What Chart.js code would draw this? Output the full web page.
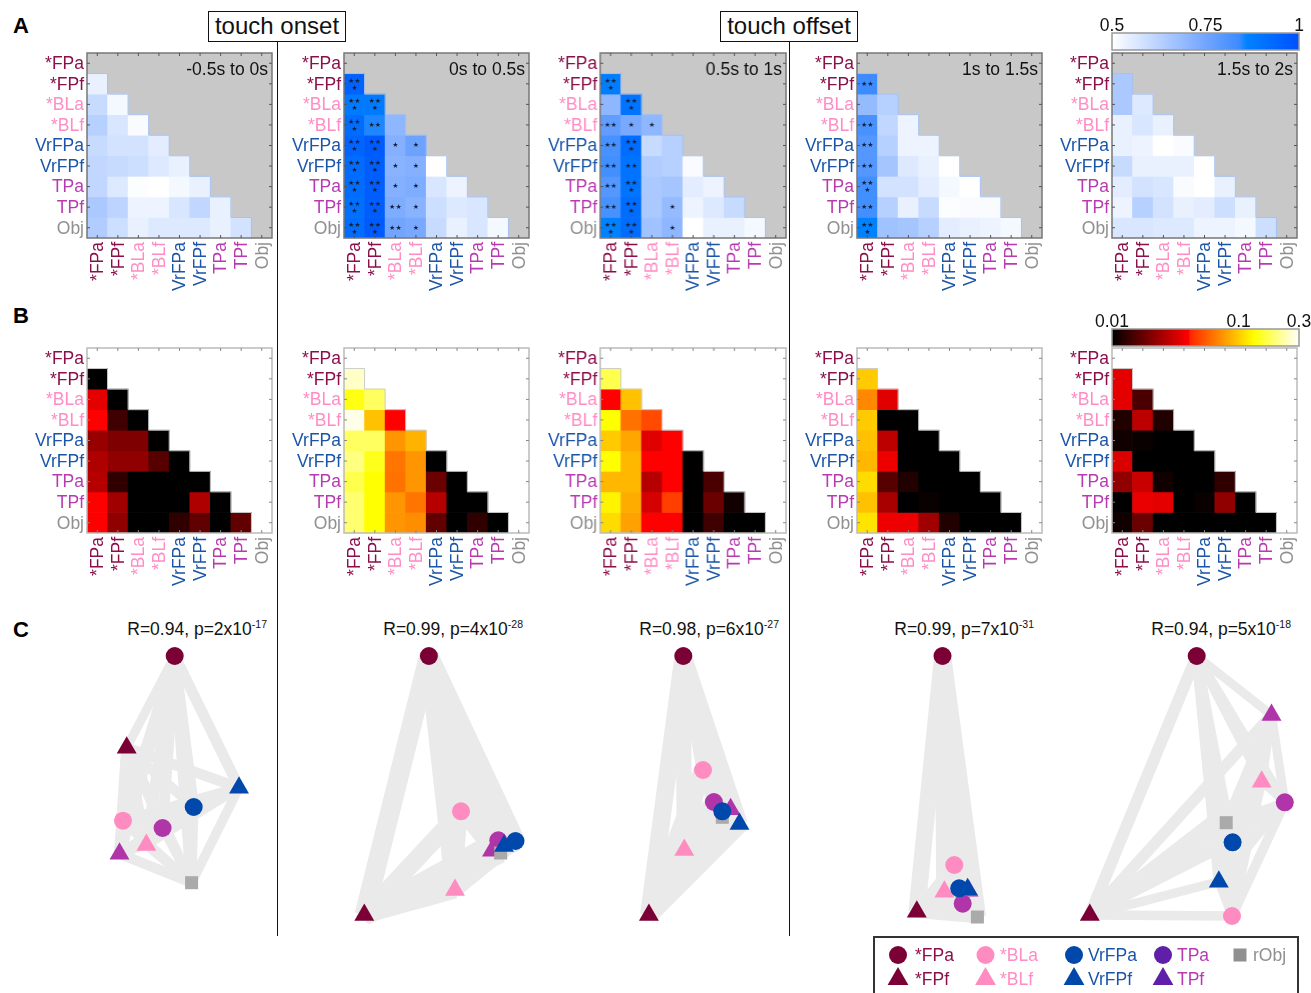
<!DOCTYPE html>
<html>
<head>
<meta charset="utf-8">
<title>Touch onset and offset matrices</title>
<script src="https://cdn.jsdelivr.net/npm/chart.js"></script>
<style>
  html, body { margin: 0; padding: 0; background: #fff; width: 1311px; height: 993px; overflow: hidden; }
  body { position: relative; font-family: "Liberation Sans", Arial, sans-serif; color: #111; }
  canvas { position: absolute; }
  .letter { position: absolute; left: 13px; font-size: 22px; font-weight: bold; line-height: 26px; color: #000; }
  .event { position: absolute; top: 11px; height: 29px; line-height: 28px; border: 1px solid #111; background: #fff;
           text-align: center; font-size: 24px; box-sizing: content-box; z-index: 5; }
  .sep { position: absolute; width: 1px; top: 41px; height: 895px; background: #111; }
  .fit { position: absolute; top: 620px; font-size: 17.5px; line-height: 18px; white-space: nowrap; text-align: right; z-index: 5; }
  .fit sup { font-size: 10.5px; line-height: 0; }
  .legendbox { position: absolute; left: 873px; top: 936px; width: 422px; height: 70px; border: 2px solid #333; }
</style>
</head>
<body>
<div class="sep" style="left:277px"></div>
<div class="sep" style="left:789px"></div>
<div class="event" style="left:208px;width:136px">touch onset</div>
<div class="event" style="left:720px;width:136px">touch offset</div>
<div class="letter" style="top:13px">A</div>
<div class="letter" style="top:303px">B</div>
<div class="letter" style="top:617px">C</div>
<div class="legendbox"></div>

<script>
const categories = ['*FPa', '*FPf', '*BLa', '*BLf', 'VrFPa', 'VrFPf', 'TPa', 'TPf', 'Obj'];
const labelColors = ['#8a0f4a', '#8a0f4a', '#ff8cc4', '#ff8cc4', '#1a55a8', '#1a55a8', '#b83ab0', '#b83ab0', '#909090'];
const windows = ['-0.5s to 0s', '0s to 0.5s', '0.5s to 1s', '1s to 1.5s', '1.5s to 2s'];

// decoding performance, rows *FPf..Obj, lower triangle only
const decode1 = [[.54], [.60, .52], [.63, .57, .51], [.60, .58, .58, .55], [.61, .60, .59, .56, .54],
  [.61, .56, .505, .50, .52, .54], [.65, .62, .53, .53, .57, .61, .54], [.64, .59, .54, .56, .56, .56, .54, .58]];
const decode2 = [[.95], [.88, .88], [.92, .85, .70], [.94, .97, .72, .76], [.92, .96, .71, .72, .50],
  [.92, .96, .72, .73, .57, .53], [.91, .96, .73, .71, .59, .56, .57], [.92, .97, .75, .74, .60, .54, .57, .52]];
const decode3 = [[.87], [.70, .90], [.78, .74, .70], [.82, .92, .60, .63], [.83, .90, .64, .63, .51],
  [.80, .90, .65, .66, .55, .53], [.82, .92, .65, .69, .53, .56, .60], [.86, .92, .67, .70, .50, .54, .54, .52]];
const decode4 = [[.84], [.69, .63], [.82, .61, .53], [.80, .63, .53, .53], [.80, .66, .56, .54, .50],
  [.83, .58, .58, .55, .52, .50], [.83, .63, .54, .60, .505, .51, .51], [.86, .67, .66, .63, .55, .54, .53, .52]];
const decode5 = [[.65], [.65, .56], [.54, .57, .54], [.54, .53, .50, .51], [.60, .54, .54, .54, .50],
  [.55, .58, .57, .51, .50, .54], [.53, .63, .58, .54, .55, .59, .54], [.57, .57, .56, .56, .53, .53, .52, .59]];

// number of significance stars per cell
const stars1 = [];
const stars2 = [[3], [3, 3], [3, 2, 0], [3, 3, 1, 1], [3, 3, 1, 1, 0], [3, 3, 1, 1, 0, 0], [3, 3, 2, 1, 0, 0, 0], [3, 3, 2, 1, 0, 0, 0, 0]];
const stars3 = [[3], [0, 3], [2, 1, 1], [2, 3, 0, 0], [2, 2, 0, 0, 0], [2, 3, 0, 0, 0, 0], [2, 3, 0, 1, 0, 0, 0], [3, 3, 0, 1, 0, 0, 0, 0]];
const stars4 = [[2], [0, 0], [2, 0, 0], [2, 0, 0, 0], [2, 0, 0, 0, 0], [3, 0, 0, 0, 0, 0], [2, 0, 0, 0, 0, 0, 0], [3, 0, 0, 0, 0, 0, 0, 0]];
const stars5 = [];

// p values, same layout
const pval1 = [[.01], [.035, .01], [.04, .014, .01], [.023, .02, .02, .01], [.026, .022, .022, .016, .01],
  [.027, .013, .01, .01, .01, .01], [.04, .024, .01, .01, .01, .026, .01], [.04, .022, .01, .01, .013, .017, .01, .017]];
const pval2 = [[.25], [.14, .18], [.28, .095, .04], [.18, .18, .075, .088], [.2, .145, .063, .075, .01],
  [.17, .133, .062, .075, .018, .01], [.19, .133, .075, .063, .027, .01, .01], [.19, .133, .075, .072, .017, .01, .013, .01]];
const pval3 = [[.17], [.04, .095], [.133, .062, .05], [.1, .082, .034, .04], [.133, .09, .04, .04, .01],
  [.09, .09, .027, .04, .01, .015], [.125, .085, .032, .047, .01, .018, .011], [.11, .08, .04, .04, .01, .014, .01, .01]];
const pval4 = [[.1], [.07, .034], [.1, .01, .01], [.095, .028, .01, .01], [.09, .037, .01, .01, .01],
  [.11, .016, .012, .01, .01, .01], [.095, .025, .01, .0105, .01, .01, .01], [.115, .037, .037, .024, .012, .01, .01, .01]];
const pval5 = [[.035], [.035, .015], [.012, .028, .012], [.011, .0105, .01, .01], [.033, .01, .01, .01, .01],
  [.022, .03, .011, .01, .01, .013], [.01, .036, .035, .01, .0105, .022, .01], [.011, .018, .01, .01, .01, .01, .01, .01]];

// MDS coordinates in the order of categories
const mdsX1 = [134.7, 86.7, 83, 106.4, 153.7, 199, 122.6, 79.5, 151.6];
const mdsY1 = [274, 182.3, 109.3, 85, 123, 142.3, 102, 76.3, 47.3];
const mdsX2 = [128.9, 64.3, 161, 155, 215.5, 204, 198.3, 192, 200.7];
const mdsY2 = [274, 15, 118.7, 40, 89, 84, 89.7, 79.3, 77];
const mdsX3 = [123.3, 88.9, 143, 124.3, 162.3, 179.5, 153.9, 170.6, 162.3];
const mdsY3 = [274, 15, 160, 80, 118.7, 106, 128, 120.7, 112.7];
const mdsX4 = [132.5, 106.8, 144.3, 134.4, 149.2, 157.6, 152.7, 158.6, 167.4];
const mdsY4 = [274, 18.3, 65, 38.3, 41.7, 40.7, 26.3, 39.3, 13];
const mdsX5 = [146.7, 39.8, 182, 211.7, 182.6, 168.8, 234.8, 221.5, 176.2];
const mdsY5 = [274, 15, 14, 148.3, 87.7, 48.3, 127.7, 215, 107.3];

const fitR = ['0.94', '0.99', '0.98', '0.99', '0.94'];
const fitP = ['2x10', '4x10', '6x10', '7x10', '5x10'];
const fitExp = ['-17', '-28', '-27', '-31', '-18'];

const decodeTicks = [0.5, 0.75, 1];
const pvalTicks = [0.01, 0.1, 0.3];

const legendNames = ['*FPa', '*FPf', '*BLa', '*BLf', 'VrFPa', 'VrFPf', 'TPa', 'TPf', 'rObj'];

// layout
const panelLeft = [86.5, 343.5, 600, 856.5, 1111.5];
const panelSize = 185.5;
const mdsLeft = [40, 300, 560, 810, 1050];
const fitRight = [267, 523, 779, 1034, 1291];
const nodeColors = ['#7a0035', '#7a0035', '#ff8cc0', '#ff8cc0', '#0048ab', '#0048ab', '#b035a8', '#b035a8', '#aaaaaa'];
const nodeStyles = ['circle', 'triangle', 'circle', 'triangle', 'circle', 'triangle', 'circle', 'triangle', 'rect'];
const nodeSizes = [9, 11.5, 9, 11.5, 9, 11.5, 9, 11.5, 9.2];
const drawOrder = [0, 1, 2, 3, 6, 7, 8, 5, 4];
const legendColors = ['#7a0035', '#7a0035', '#ff8cc0', '#ff8cc0', '#0048ab', '#0048ab', '#5f1fa8', '#5f1fa8', '#909090'];

const decodeStops = [[0, [255, 255, 255]], [0.5, [115, 165, 255]], [0.68, [60, 140, 255]], [0.72, [0, 130, 255]], [1, [0, 80, 255]]];
const heatStops = [[0, [0, 0, 0]], [0.41, [255, 0, 0]], [0.42, [255, 40, 0]], [0.76, [255, 255, 0]], [1, [255, 255, 255]]];

Chart.defaults.font.family = '"Liberation Sans", Arial, sans-serif';
Chart.defaults.animation = false;
Chart.defaults.responsive = false;
Chart.defaults.plugins.legend.display = false;
Chart.defaults.plugins.tooltip.enabled = false;

function addCanvas(left, top, width, height) {
  const c = document.createElement('canvas');
  c.width = width;
  c.height = height;
  c.style.left = left + 'px';
  c.style.top = top + 'px';
  c.style.width = width + 'px';
  c.style.height = height + 'px';
  document.body.appendChild(c);
  return c;
}

function mapColor(stops, t) {
  t = Math.max(0, Math.min(1, t));
  for (let i = 1; i < stops.length; i++) {
    if (t <= stops[i][0]) {
      const a = stops[i - 1], b = stops[i];
      const k = (t - a[0]) / (b[0] - a[0]);
      const c = a[1].map((v, n) => Math.round(v + (b[1][n] - v) * k));
      return 'rgb(' + c.join(',') + ')';
    }
  }
  return 'rgb(' + stops[stops.length - 1][1].join(',') + ')';
}
function decodeColor(v) { return mapColor(decodeStops, (v - 0.5) / 0.5); }
function heatColor(v) { return mapColor(heatStops, Math.log(v / 0.01) / Math.log(0.3 / 0.01)); }

function noPadding(s) {
  s.paddingLeft = s.paddingRight = s.paddingTop = s.paddingBottom = 0;
}

function matrixPlugin(o) {
  return {
    id: 'matrixDecor',
    afterDatasetsDraw(chart) {
      const ctx = chart.ctx, a = chart.chartArea, xs = chart.scales.x, ys = chart.scales.y;
      ctx.save();
      // staircase outline
      ctx.strokeStyle = o.step;
      ctx.lineWidth = 1;
      ctx.beginPath();
      ctx.moveTo(a.left, ys.getPixelForValue(1));
      for (let r = 1; r <= 8; r++) {
        const right = xs.getPixelForValue(r - 1) + xs.getPixelForValue(1) - xs.getPixelForValue(0.5);
        ctx.lineTo(right, ys.getPixelForValue(r));
        ctx.lineTo(right, ys.getPixelForValue(r + 1));
      }
      ctx.stroke();
      // stars
      ctx.fillStyle = '#10203a';
      ctx.font = '7px "DejaVu Sans"';
      ctx.textAlign = 'center';
      ctx.textBaseline = 'middle';
      o.stars.forEach((row, r) => row.forEach((n, j) => {
        if (!n) return;
        const x = xs.getPixelForValue(j), y = ys.getPixelForValue(r + 1.5);
        if (n === 3) {
          ctx.fillText('★★', x, y - 3);
          ctx.fillText('★', x, y + 4);
        } else {
          ctx.fillText(n === 2 ? '★★' : '★', x, y);
        }
      }));
      // frame and inward ticks
      ctx.strokeStyle = o.frame;
      ctx.lineWidth = o.frameWidth;
      ctx.strokeRect(a.left, a.top, a.right - a.left, a.bottom - a.top);
      ctx.lineWidth = 1;
      ctx.strokeStyle = o.tick;
      ctx.beginPath();
      categories.forEach((c, i) => {
        const x = xs.getPixelForValue(i), y = ys.getPixelForValue(i + 0.5);
        ctx.moveTo(x, a.top); ctx.lineTo(x, a.top + 3);
        ctx.moveTo(x, a.bottom); ctx.lineTo(x, a.bottom - 3);
        ctx.moveTo(a.left, y); ctx.lineTo(a.left + 3, y);
        ctx.moveTo(a.right, y); ctx.lineTo(a.right - 3, y);
      });
      ctx.stroke();
      if (o.caption) {
        ctx.fillStyle = '#111';
        ctx.font = '17.5px "Liberation Sans"';
        ctx.textAlign = 'right';
        ctx.fillText(o.caption, a.right - 4, a.top + 17);
      }
      ctx.restore();
    }
  };
}

function drawMatrix(n, top, values, colorFn, opts) {
  const canvas = addCanvas(panelLeft[n] - 62, top - 6, 62 + panelSize + 8, panelSize + 6 + 62);
  new Chart(canvas, {
    type: 'bar',
    data: {
      labels: categories,
      datasets: values.map((row, r) => ({
        data: row.map(() => [r + 1, r + 2]),
        backgroundColor: row.map(colorFn),
        grouped: false,
        barPercentage: 1,
        categoryPercentage: 1
      }))
    },
    options: {
      layout: { padding: { top: 6, right: 8, left: 0, bottom: 0 } },
      scales: {
        x: {
          type: 'category',
          offset: true,
          afterFit(s) { s.height = 62; noPadding(s); },
          grid: { display: false, drawTicks: false },
          border: { display: false },
          ticks: {
            autoSkip: false, maxRotation: 90, minRotation: 90, padding: 4, labelOffset: 1,
            font: { size: 17.5 },
            color: c => labelColors[c.index]
          }
        },
        y: {
          type: 'linear', reverse: true, min: 0, max: 9,
          afterBuildTicks(s) { s.ticks = categories.map((c, i) => ({ value: i + 0.5 })); },
          afterFit(s) { s.width = 62; noPadding(s); },
          grid: { display: false, drawTicks: false },
          border: { display: false },
          ticks: {
            autoSkip: false, padding: 3, labelOffset: 1,
            font: { size: 17.5 },
            color: c => labelColors[c.index],
            callback: (v, i) => categories[i]
          }
        }
      }
    },
    plugins: [
      { id: 'cellBg', beforeDatasetsDraw(chart) {
          const a = chart.chartArea;
          chart.ctx.save();
          chart.ctx.fillStyle = opts.bg;
          chart.ctx.fillRect(a.left, a.top, a.right - a.left, a.bottom - a.top);
          chart.ctx.restore();
      } },
      matrixPlugin(opts)
    ]
  });
}

function drawColorbar(top, type, min, max, ticks, stops) {
  const canvas = addCanvas(1080, top, 231, 42);
  new Chart(canvas, {
    type: 'bar',
    data: {
      labels: [''],
      datasets: [{
        data: [[min, max]],
        barPercentage: 1,
        categoryPercentage: 1,
        backgroundColor(c) {
          const a = c.chart.chartArea;
          if (!a) return '#fff';
          const g = c.chart.ctx.createLinearGradient(a.left, 0, a.right, 0);
          stops.forEach(s => g.addColorStop(s[0], mapColor(stops, s[0])));
          return g;
        }
      }]
    },
    options: {
      indexAxis: 'y',
      layout: { padding: { left: 32, right: 12, top: 0, bottom: 2 } },
      scales: {
        x: {
          type: type, position: 'top', min: min, max: max,
          afterBuildTicks(s) { s.ticks = ticks.map(v => ({ value: v })); },
          afterFit(s) { s.height = 23; noPadding(s); },
          grid: { display: false, drawTicks: false },
          border: { display: false },
          ticks: { autoSkip: false, maxRotation: 0, padding: -4, font: { size: 17.5 }, color: '#111', callback: v => String(v) }
        },
        y: { display: false }
      }
    },
    plugins: [{ id: 'barFrame', afterDatasetsDraw(chart) {
      const a = chart.chartArea, ctx = chart.ctx;
      ctx.save();
      ctx.strokeStyle = '#999';
      ctx.lineWidth = 1.5;
      ctx.strokeRect(a.left, a.top, a.right - a.left, a.bottom - a.top);
      ctx.restore();
    } }]
  });
}

function drawNetwork(n, xs, ys, weights) {
  const canvas = addCanvas(mdsLeft[n], 640, 260, 290);
  const edges = [];
  weights.forEach((row, r) => row.forEach((v, j) => {
    edges.push({
      type: 'scatter',
      showLine: true,
      data: [{ x: xs[r + 1], y: ys[r + 1] }, { x: xs[j], y: ys[j] }],
      borderColor: '#eaeaea',
      borderWidth: 8 + (v - 0.5) * 26,
      pointRadius: 0,
      clip: false
    });
  }));
  const nodes = {
    type: 'scatter',
    data: drawOrder.map(i => ({ x: xs[i], y: ys[i] })),
    pointStyle: drawOrder.map(i => nodeStyles[i]),
    pointRadius: drawOrder.map(i => nodeSizes[i]),
    backgroundColor: drawOrder.map(i => nodeColors[i]),
    borderWidth: 0,
    clip: false
  };
  new Chart(canvas, {
    type: 'scatter',
    data: { datasets: [nodes].concat(edges) },
    options: {
      layout: { autoPadding: false },
      scales: {
        x: { type: 'linear', display: false, min: 0, max: 260 },
        y: { type: 'linear', display: false, min: 0, max: 290 }
      }
    }
  });
}

function drawLegend() {
  const canvas = addCanvas(875, 938, 420, 55);
  // columns of markers and text, two rows
  const markX = [23, 23, 110.5, 110.5, 199, 199, 288, 288, 365];
  const markY = [38, 14, 38, 14, 38, 14, 38, 14, 38];
  const textX = [40, 40, 125, 125, 213, 213, 302, 302, 378];
  new Chart(canvas, {
    type: 'scatter',
    data: { datasets: [{
      data: markX.map((x, i) => ({ x: x, y: markY[i] })),
      pointStyle: nodeStyles,
      pointRadius: [9, 12, 9, 12, 9, 12, 9, 12, 9.2],
      backgroundColor: legendColors,
      borderWidth: 0
    }] },
    options: {
      layout: { autoPadding: false },
      scales: {
        x: { type: 'linear', display: false, min: 0, max: 420 },
        y: { type: 'linear', display: false, min: 0, max: 55 }
      }
    },
    plugins: [{ id: 'legendText', afterDatasetsDraw(chart) {
      const ctx = chart.ctx;
      ctx.save();
      ctx.font = '17.5px "Liberation Sans"';
      ctx.textBaseline = 'middle';
      legendNames.forEach((t, i) => {
        ctx.fillStyle = labelColors[i];
        ctx.fillText(t, chart.scales.x.getPixelForValue(textX[i]), chart.scales.y.getPixelForValue(markY[i]) + 1);
      });
      ctx.restore();
    } }]
  });
}

const decodes = [decode1, decode2, decode3, decode4, decode5];
const starSets = [stars1, stars2, stars3, stars4, stars5];
const pvals = [pval1, pval2, pval3, pval4, pval5];
const mdsXs = [mdsX1, mdsX2, mdsX3, mdsX4, mdsX5];
const mdsYs = [mdsY1, mdsY2, mdsY3, mdsY4, mdsY5];

decodes.forEach((d, n) => {
  drawMatrix(n, 52.5, d, decodeColor, {
    bg: '#c8c8c8', stars: starSets[n], caption: windows[n],
    step: '#a6c0ee', frame: '#777', frameWidth: 1.5, tick: '#555'
  });
  drawMatrix(n, 347.5, pvals[n], heatColor, {
    bg: '#ffffff', stars: [], caption: null,
    step: '#cccccc', frame: '#bbb', frameWidth: 1.5, tick: '#888'
  });
  drawNetwork(n, mdsXs[n], mdsYs[n], d);

  const fit = document.createElement('div');
  fit.className = 'fit';
  fit.style.right = (1311 - fitRight[n]) + 'px';
  fit.innerHTML = 'R=' + fitR[n] + ', p=' + fitP[n] + '<sup>' + fitExp[n] + '</sup>';
  document.body.appendChild(fit);
});

drawColorbar(10, 'linear', 0.5, 1, decodeTicks, decodeStops);
drawColorbar(306, 'logarithmic', 0.01, 0.3, pvalTicks, heatStops);
drawLegend();
</script>
</body>
</html>
